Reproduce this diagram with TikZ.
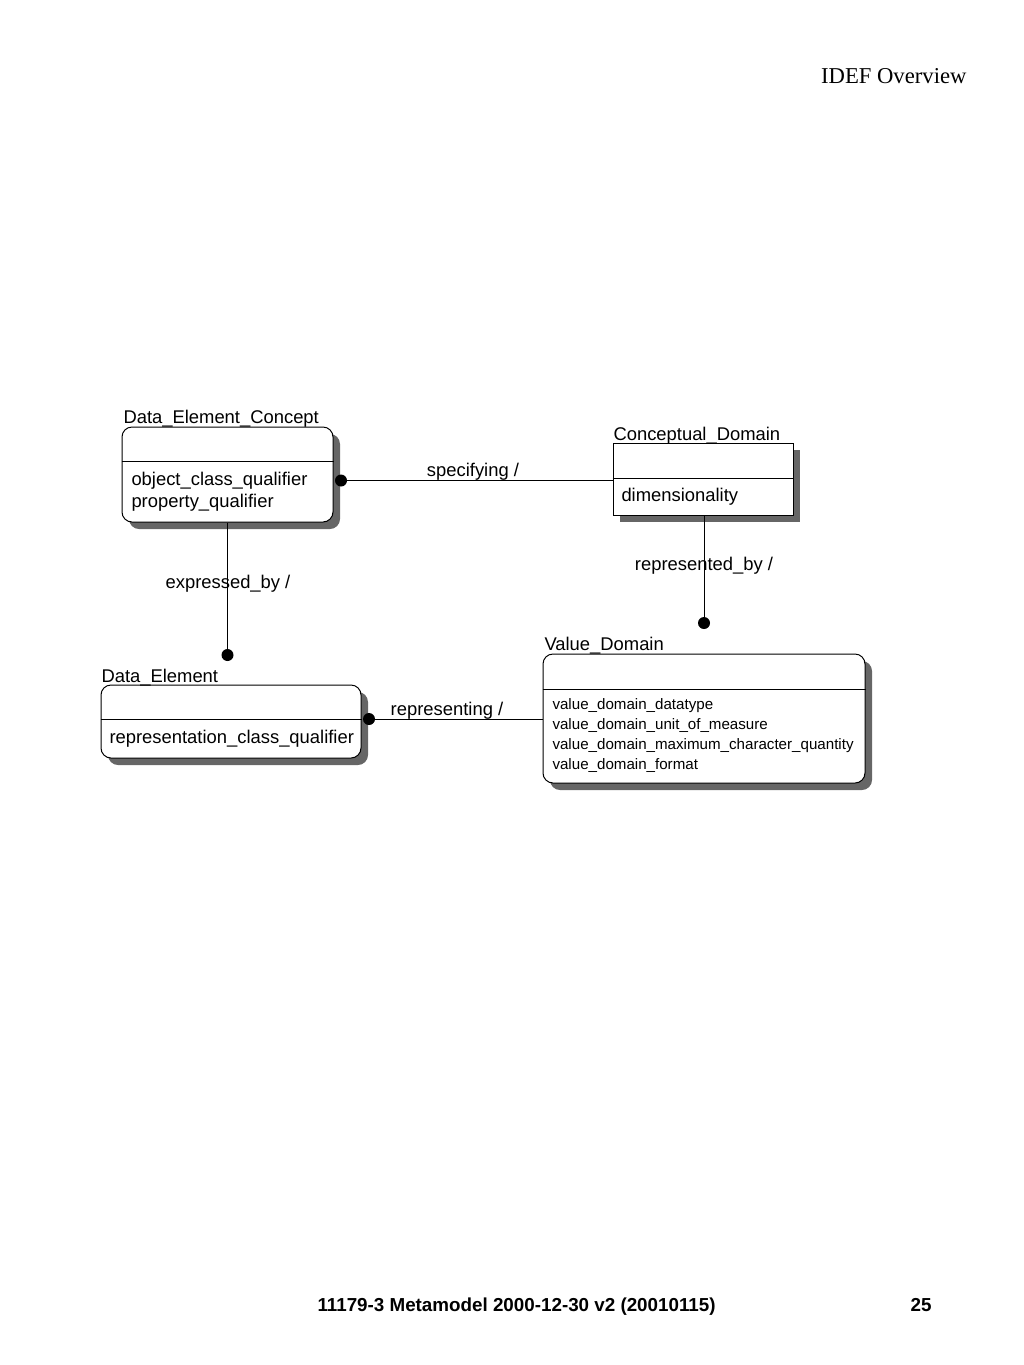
\documentclass[tikz,border=0pt]{standalone}
\usepackage{fontspec}
\setmainfont{Liberation Serif}
\setsansfont{Liberation Sans}
\usetikzlibrary{shadows}

\tikzset{every picture/.style={line width=0.75pt}}

\begin{document}
\begin{tikzpicture}[x=0.75pt,y=0.75pt,yscale=-1,xscale=1,
	entity/.style={draw, fill=white, inner sep=0pt, drop shadow={shadow xshift=5.25pt, shadow yshift=-5.25pt, fill=black!60, opacity=1}},
	roundbox/.style={entity, rounded corners=7.5pt},
	dot/.style={circle, fill=black, inner sep=0pt, minimum size=9pt},
	txt/.style={font=\sffamily\fontsize{13.8}{16}\selectfont, inner sep=0pt, anchor=base west},
	small/.style={font=\sffamily\fontsize{11.35}{13}\selectfont, inner sep=0pt, anchor=base west},
	lbl/.style={font=\sffamily\fontsize{13.8}{16}\selectfont, inner sep=0pt, anchor=base}]
	\useasboundingbox (0,0) rectangle (1024,1365);

	% Header
	\node [font=\rmfamily\fontsize{17}{20}\selectfont, inner sep=0pt, anchor=base east] (head) at (967,83) {IDEF Overview};

	% Entity boxes
	\node [roundbox, minimum width=158.25pt, minimum height=71.25pt] (dec) at (227.5,474.5) {};
	\node [entity, minimum width=135pt, minimum height=54pt] (cd) at (703,479) {};
	\node [roundbox, minimum width=241.5pt, minimum height=96.75pt] (vd) at (704,718.5) {};
	\node [roundbox, minimum width=195pt, minimum height=54.75pt] (de) at (231,721.5) {};

	% Dividers
	\draw (dec.west |- 0,461) -- (dec.east |- 0,461) ;
	\draw (cd.west |- 0,478) -- (cd.east |- 0,478) ;
	\draw (vd.west |- 0,689) -- (vd.east |- 0,689) ;
	\draw (de.west |- 0,719) -- (de.east |- 0,719) ;

	% Entity names
	\node [txt] (dec-t) at (123,423) {Data\_Element\_Concept};
	\node [txt] (cd-t) at (613,440) {Conceptual\_Domain};
	\node [txt] (vd-t) at (544,650) {Value\_Domain};
	\node [txt] (de-t) at (101,682) {Data\_Element};

	% Attributes
	\node [txt] (dec-a1) at (131,485.5) {object\_class\_qualifier};
	\node [txt] (dec-a2) at (131,507.5) {property\_qualifier};
	\node [txt] (cd-a1) at (621,501.5) {dimensionality};
	\node [txt] (de-a1) at (109,743.5) {representation\_class\_qualifier};
	\foreach \i/\attr in {1/datatype, 2/unit\_of\_measure, 3/maximum\_character\_quantity, 4/format}
		\node [small] (vd-a\i) at (552,689.5+20*\i) {value\_domain\_\attr};

	% Relationship ends
	\node [dot] (dec-dot) at (341,480.5) {};
	\node [dot] (cd-dot) at (704,623) {};
	\node [dot] (de-dot) at (227.5,655) {};
	\node [dot] (vd-dot) at (369,719) {};

	% Relationships
	\draw (dec-dot.center) -- (dec-dot -| cd.west) ;
	\draw (cd.south -| cd-dot) -- (cd-dot.center) ;
	\draw (dec.south) -- (de-dot.center) ;
	\draw (vd-dot.center) -- (vd-dot -| vd.west) ;

	% Relationship names
	\node [lbl] (spec) at (473,476.5) {specifying /};
	\node [lbl] (repby) at (704,570.5) {represented\_by /};
	\node [lbl] (expby) at (228,588.5) {expressed\_by /};
	\node [lbl] (repr) at (447,715.5) {representing /};

	% Footer
	\node [font=\sffamily\bfseries\fontsize{14.1}{16}\selectfont, inner sep=0pt, anchor=base west] (foot) at (317,1311) {11179-3 Metamodel 2000-12-30 v2 (20010115)};
	\node [font=\sffamily\bfseries\fontsize{14.1}{16}\selectfont, inner sep=0pt, anchor=base east] (page) at (932,1311) {25};

\end{tikzpicture}
\end{document}
